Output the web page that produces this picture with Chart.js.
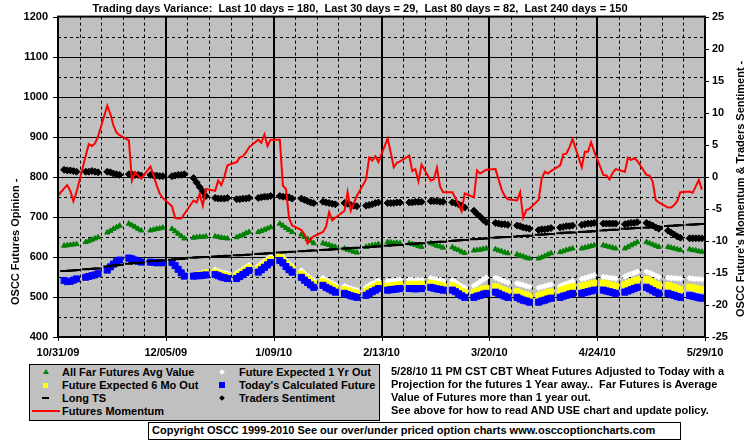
<!DOCTYPE html>
<html>
<head>
<meta charset="utf-8">
<script src="https://cdn.jsdelivr.net/npm/chart.js@4.4.1/dist/chart.umd.min.js"></script>
<style>
  html, body { margin: 0; padding: 0; background: #fff; }
  #wrap { position: relative; width: 755px; height: 446px; overflow: hidden;
          font: bold 11px "Liberation Sans", Arial, sans-serif; color: #000; }
  #chart { position: absolute; left: 0; top: 0; }
  .t { position: absolute; white-space: pre; line-height: 13px; }
  #title { left: 0; top: 2px; width: 720px; text-align: center; }
  #legend { position: absolute; left: 29px; top: 364px; width: 349px; height: 55px;
            background: #c0c0c0; border: 1px solid #000; overflow: hidden; }
  .mk { position: absolute; }
  #copy { position: absolute; left: 148px; top: 422px; width: 531px; height: 16px;
          border: 1px solid #000; background: #fff; }
</style>
</head>
<body>
<div id="wrap">
  <canvas id="chart" width="755" height="446"></canvas>
  <div class="t" id="title">Trading days Variance:  Last 10 days = 180,  Last 30 days = 29,  Last 80 days = 82,  Last 240 days = 150</div>

  <div id="legend">
    <!-- col 1 -->
    <div class="mk" style="left:13px;top:4px;width:0;height:0;border-left:3px solid transparent;border-right:3px solid transparent;border-bottom:5px solid #008000;"></div>
    <div class="t" style="left:32px;top:1px;">All Far Futures Avg Value</div>
    <div class="mk" style="left:13px;top:18px;width:5px;height:5px;background:#ff0;"></div>
    <div class="t" style="left:32px;top:14px;">Future Expected 6 Mo Out</div>
    <div class="mk" style="left:12px;top:32px;width:7px;height:2px;background:#000;"></div>
    <div class="t" style="left:32px;top:27px;">Long TS</div>
    <div class="mk" style="left:2px;top:45px;width:28px;height:2px;background:#f00;"></div>
    <div class="t" style="left:32px;top:40px;">Futures Momentum</div>
    <!-- col 2 -->
    <div class="mk" style="left:190px;top:5px;width:4px;height:4px;background:#fff;transform:rotate(45deg);"></div>
    <div class="t" style="left:209px;top:1px;">Future Expected 1 Yr Out</div>
    <div class="mk" style="left:189px;top:17px;width:6px;height:6px;background:#00f;"></div>
    <div class="t" style="left:209px;top:14px;">Today's Calculated Future</div>
    <div class="mk" style="left:190px;top:31px;width:4px;height:4px;background:#000;transform:rotate(45deg);"></div>
    <div class="t" style="left:209px;top:27px;">Traders Sentiment</div>
  </div>

  <div class="t" style="left:391px;top:365px;">5/28/10 11 PM CST CBT Wheat Futures Adjusted to Today with a</div>
  <div class="t" style="left:391px;top:378px;">Projection for the futures 1 Year away..  Far Futures is Average</div>
  <div class="t" style="left:391px;top:391px;">Value of Futures more than 1 year out.</div>
  <div class="t" style="left:391px;top:404px;">See above for how to read AND USE chart and update policy.</div>

  <div id="copy"><div class="t" style="left:3px;top:1px;">Copyright OSCC 1999-2010 See our over/under priced option charts www.osccoptioncharts.com</div></div>
</div>

<script>
// x axis: calendar days since 10/31/09, labelled every 5 weeks
const xTickDays   = [0, 35, 70, 105, 140, 175, 210];
const xTickLabels = ['10/31/09', '12/05/09', '1/09/10', '2/13/10', '3/20/10', '4/24/10', '5/29/10'];

// trading days (Mon..Fri) for the 30 weeks on the chart
const tradeDay = [];
for (let w = 0; w < 30; w++) for (let j = 0; j < 5; j++) tradeDay.push(2 + 7 * w + j);

// ---- left axis series (one row = one week, Mon..Fri) ----
const farFutures = [
  628,629,630,631,632,  637,640,643,646,649,  661,665,670,674,678,  683,679,675,670,666,
  666,668,670,671,673,  670,664,658,652,646,  648,649,650,650,651,  651,650,648,647,646,
  649,652,655,659,662,  662,665,668,671,674,  683,678,672,667,662,  656,650,645,640,634,
  634,632,630,627,625,  621,618,616,613,611,  625,627,629,630,632,  637,636,635,635,634,
  634,632,630,627,625,  634,631,628,626,623,  624,620,617,613,610,  616,617,618,620,621,
  619,616,614,611,609,  606,603,601,598,596,  596,599,602,606,609,  612,614,617,619,621,
  621,623,625,627,629,  629,627,625,623,621,  621,625,629,633,637,  637,634,631,628,625,
  625,623,621,619,617,  619,617,616,614,613
];
const sixMoOut = [
  540,537,538,541,544,  548,550,552,554,557,  566,574,581,587,591,  596,594,591,588,586,
  586,585,584,585,584,  585,577,568,559,551,  552,554,555,557,560,  562,559,556,554,552,
  553,558,563,568,573,  570,576,582,588,594,  599,593,584,576,570,  558,551,545,539,533,
  539,534,530,526,522,  519,516,513,511,509,  514,519,523,527,531,  527,528,529,530,531,
  532,532,531,532,532,  535,533,531,530,528,  529,525,520,515,511,  512,515,517,520,522,
  526,523,519,516,513,  514,510,507,505,502,  503,506,508,511,513,  516,519,521,524,526,
  527,529,531,533,535,  535,533,531,529,527,  531,534,537,540,543,  544,540,536,532,529,
  529,526,524,521,519,  525,523,521,519,518
];
const oneYrOut = [
  537,534,535,538,541,  545,547,549,551,554,  563,571,578,584,588,  593,591,588,585,583,
  583,582,581,582,581,  582,574,565,556,548,  552,555,557,560,563,  568,565,562,560,558,
  559,564,569,574,579,  577,583,589,595,601,  606,600,591,583,577,  566,559,553,547,541,
  547,542,538,534,530,  527,524,521,519,517,  524,529,533,537,541,  539,540,541,542,543,
  543,543,542,543,543,  547,545,543,542,540,  541,537,532,527,523,  528,533,538,543,548,
  548,545,542,539,536,  534,532,530,527,525,  523,525,527,529,531,  527,530,533,536,539,
  545,547,549,552,554,  550,549,548,547,546,  551,554,557,560,563,  563,560,557,553,550,
  548,547,547,546,546,  547,546,545,545,544
];
const todayCalc = [
  541,538,539,542,545,  549,551,553,555,558,  567,575,582,588,592,  597,595,592,589,587,
  587,586,585,586,585,  586,578,569,560,552,  552,553,553,554,555,  556,553,550,548,546,
  546,551,556,561,566,  562,568,574,580,586,  591,585,576,568,562,  549,542,536,530,524,
  529,524,520,516,512,  509,506,503,501,499,  504,509,513,517,521,  517,518,519,520,521,
  521,521,520,521,521,  524,522,520,519,517,  517,513,508,503,499,  499,502,504,507,509,
  512,509,505,502,499,  499,495,492,490,487,  487,490,492,495,497,  499,502,504,507,509,
  509,511,513,515,517,  517,515,513,511,509,  512,515,518,521,524,  524,520,516,512,509,
  509,506,504,501,499,  504,502,500,498,497
];
const longTS = [
  565,565,566,566,567,  569,570,570,571,571,  576,577,578,579,580,  583,584,585,585,586,
  589,590,590,591,591,  593,594,595,595,596,  598,599,599,600,600,  601,601,602,602,603,
  604,604,605,605,606,  607,608,608,609,609,  611,611,612,612,613,  614,615,615,616,616,
  617,618,618,619,619,  621,621,622,622,623,  624,625,625,626,626,  628,629,629,630,630,
  632,633,633,634,634,  636,637,637,638,638,  640,641,641,642,642,  644,645,645,646,646,
  648,649,649,650,650,  651,652,652,653,653,  655,656,656,657,657,  659,660,660,661,661,
  662,663,663,664,664,  666,667,667,668,668,  670,671,671,672,672,  673,674,674,675,675,
  677,678,678,679,679,  680,681,681,682,682
];

// ---- right axis series ----
const momentumDays = [-1].concat(tradeDay);   // line starts on Fri 10/30/09
const momentum = [
  -3.5,
  -1.8,-1.3,-2.2,-3.8,-2.4,   3.3, 5.1, 4.8, 5.2, 6.3,  11.1, 9.8, 8.0, 6.9, 6.5,   5.7,-0.6, 0.7, 0.2,-0.3,
   1.6, 0.3,-1.3,-2.6,-3.3,  -4.6,-6.4,-6.5,-6.5,-5.8,  -3.7,-4.0,-2.7,-4.5,-1.9,  -2.2,-0.6,-1.3, 0.0, 1.8,
   2.3, 3.0, 3.2, 3.8, 4.6,   5.8, 5.3, 6.6, 4.8, 5.8,   5.8,-1.4,-1.9,-6.5,-7.6,  -8.3,-9.0,-10.4,-9.7,-9.3,
  -8.6,-7.8,-5.5,-6.8,-6.4,  -5.3,-2.4,-5.3,-4.2,-3.0,  -0.4, 3.0, 2.5, 3.2, 2.3,   6.0, 3.8, 1.5, 2.2, 2.4,
   3.3, 0.9, 1.2,-0.7, 1.9,  -0.6,-0.4, 1.4,-1.5,-2.4,  -2.4,-3.3,-4.3,-5.4,-2.6,  -3.2, 1.0, 0.5, 0.8, 1.1,
   1.2,-0.4,-2.0,-3.0,-3.5,  -3.7,-2.4,-6.4,-5.2,-5.0,  -3.6,-0.3, 0.8, 0.5, 0.9,   1.8, 3.5, 3.6, 4.6, 5.9,
   1.5, 3.9, 3.9, 5.4, 4.0,   0.3, 0.2,-0.4, 0.6, 1.2,   0.8, 3.0, 2.6, 2.9, 2.5,   0.3, 0.2,-0.7,-3.6,-4.0,
  -4.8,-4.8,-4.4,-3.8,-2.4,  -2.3,-2.5,-1.5,-0.5,-2.0
];
const sentiment = [
   1.1, 1.0, 1.0, 0.9, 0.8,   0.8, 0.8, 0.9, 0.8, 0.7,   0.8, 0.7, 0.5, 0.4, 0.3,   0.4, 0.4, 0.3, 0.3, 0.2,
   0.3, 0.2, 0.2, 0.1, 0.1,   0.1, 0.2, 0.3, 0.3, 0.4,  -0.2,-0.9,-1.6,-2.3,-3.0,  -3.3,-3.4,-3.4,-3.4,-3.3,
  -3.5,-3.5,-3.4,-3.4,-3.3,  -3.3,-3.2,-3.1,-3.1,-3.0,  -3.0,-3.1,-3.1,-3.2,-3.4,  -3.4,-3.6,-3.8,-4.0,-4.1,
  -3.9,-4.0,-4.1,-4.2,-4.3,  -4.1,-4.2,-4.4,-4.5,-4.6,  -4.5,-4.4,-4.3,-4.1,-4.0,  -4.1,-4.1,-4.1,-4.0,-4.0,
  -4.0,-4.0,-3.9,-3.9,-3.9,  -3.8,-3.8,-3.8,-3.9,-3.9,  -4.0,-4.1,-4.3,-4.5,-4.8,  -5.3,-5.8,-6.2,-6.7,-7.1,
  -7.2,-7.3,-7.4,-7.4,-7.5,  -7.6,-7.7,-7.9,-8.0,-8.1,  -8.3,-8.2,-8.2,-8.1,-8.0,  -7.9,-7.8,-7.7,-7.7,-7.6,
  -7.5,-7.4,-7.3,-7.3,-7.2,  -7.3,-7.3,-7.3,-7.3,-7.3,  -7.4,-7.3,-7.2,-7.2,-7.1,  -7.2,-7.4,-7.6,-7.9,-8.1,
  -8.4,-8.7,-9.0,-9.3,-9.5,  -9.6,-9.6,-9.6,-9.6,-9.6
];

const FONT = '"Liberation Sans", Arial, sans-serif';
const pts = (days, vals) => vals.map((v, i) => ({ x: days[i], y: v }));

function markerSet(label, data, axis, style, color, radius, extra) {
  return Object.assign({
    label, data, yAxisID: axis, showLine: false,
    pointStyle: style, pointRadius: radius, pointHoverRadius: radius,
    pointBackgroundColor: color, pointBorderColor: color, pointBorderWidth: 1
  }, extra || {});
}

// ---- grid, plot frame, tick marks and axis titles ----
const framePlugin = {
  id: 'oscFrame',
  beforeDraw(chart) {
    const { ctx, chartArea: a, scales } = chart;
    ctx.save();
    ctx.fillStyle = '#fff';
    ctx.fillRect(0, 0, chart.width, chart.height);
    ctx.fillStyle = '#c0c0c0';
    ctx.fillRect(a.left, a.top, a.right - a.left, a.bottom - a.top);
    ctx.strokeStyle = '#000';
    ctx.lineWidth = 1;
    for (let v = 450; v < 1200; v += 50) {
      const y = Math.round(scales.y.getPixelForValue(v)) + 0.5;
      ctx.setLineDash(v % 100 ? [3, 3] : []);
      ctx.beginPath(); ctx.moveTo(a.left, y); ctx.lineTo(a.right, y); ctx.stroke();
    }
    for (let d = 7; d < 210; d += 7) {
      const x = Math.round(scales.x.getPixelForValue(d));
      ctx.beginPath();
      if (d % 35) { ctx.lineWidth = 1; ctx.setLineDash([3, 3]); ctx.moveTo(x + 0.5, a.top); ctx.lineTo(x + 0.5, a.bottom); }
      else { ctx.lineWidth = 2; ctx.setLineDash([]); ctx.moveTo(x, a.top); ctx.lineTo(x, a.bottom); }
      ctx.stroke();
    }
    ctx.restore();
  },
  afterDraw(chart) {
    const { ctx, chartArea: a, scales } = chart;
    ctx.save();
    ctx.strokeStyle = '#000';
    ctx.lineWidth = 2;
    ctx.strokeRect(a.left, a.top, a.right - a.left, a.bottom - a.top);
    ctx.lineWidth = 1;
    ctx.beginPath();
    for (let v = 400; v <= 1200; v += 100) {
      const y = Math.round(scales.y.getPixelForValue(v)) + 0.5;
      ctx.moveTo(a.left - 5, y); ctx.lineTo(a.left, y);
    }
    for (let v = -25; v <= 25; v += 5) {
      const y = Math.round(scales.y2.getPixelForValue(v)) + 0.5;
      ctx.moveTo(a.right, y); ctx.lineTo(a.right + 4, y);
    }
    xTickDays.forEach(d => {
      const x = Math.round(scales.x.getPixelForValue(d)) + 0.5;
      ctx.moveTo(x, a.bottom); ctx.lineTo(x, a.bottom + 4);
    });
    ctx.stroke();

    // axis titles read bottom-to-top on both sides
    ctx.fillStyle = '#000';
    ctx.font = 'bold 11px ' + FONT;
    ctx.textBaseline = 'middle';
    ctx.textAlign = 'left';
    ctx.translate(16, 305); ctx.rotate(-Math.PI / 2);
    ctx.fillText('OSCC Futures Opinion -', 0, 0);
    ctx.setTransform(1, 0, 0, 1, 0, 0);
    ctx.translate(741, 317); ctx.rotate(-Math.PI / 2);
    ctx.fillText("OSCC Future's Momentum & Traders Sentiment -", 0, 0);
    ctx.restore();
  }
};

const tickFont = { family: FONT, size: 11, weight: 'bold' };

new Chart(document.getElementById('chart'), {
  type: 'scatter',
  data: {
    datasets: [
      { label: 'Futures Momentum', data: pts(momentumDays, momentum), yAxisID: 'y2', type: 'line',
        borderColor: '#ff0000', borderWidth: 2, pointRadius: 0, fill: false, tension: 0 },
      markerSet('Traders Sentiment', pts(tradeDay, sentiment), 'y2', 'rectRot', '#000', 3.5),
      markerSet('Long TS', pts(tradeDay, longTS), 'y', 'line', '#000', 4, { pointBorderWidth: 2 }),
      markerSet("Today's Calculated Future", pts(tradeDay, todayCalc), 'y', 'rect', '#0000ff', 4.3),
      markerSet('Future Expected 6 Mo Out', pts(tradeDay, sixMoOut), 'y', 'rect', '#ffff00', 4),
      markerSet('Future Expected 1 Yr Out', pts(tradeDay, oneYrOut), 'y', 'rectRot', '#ffffff', 2.8),
      markerSet('All Far Futures Avg Value', pts(tradeDay, farFutures), 'y', 'triangle', '#008000', 3)
    ]
  },
  options: {
    responsive: false,
    animation: false,
    devicePixelRatio: 1,
    layout: { padding: { left: 0, right: 0, top: 15, bottom: 79 } },
    plugins: { legend: { display: false }, tooltip: { enabled: false } },
    scales: {
      x: {
        type: 'linear', min: 0, max: 210,
        grid: { display: false, drawTicks: false }, border: { display: false },
        afterBuildTicks: s => { s.ticks = xTickDays.map(v => ({ value: v })); },
        ticks: { autoSkip: false, maxRotation: 0, color: '#000', font: tickFont, padding: 9,
                 callback: v => xTickLabels[xTickDays.indexOf(v)] },
        afterFit: s => { s.height = 30; }
      },
      y: {
        position: 'left', min: 400, max: 1200,
        grid: { display: false, drawTicks: false }, border: { display: false },
        ticks: { stepSize: 100, color: '#000', font: tickFont, padding: 10, callback: v => String(v) },
        afterFit: s => { s.width = 58; }
      },
      y2: {
        position: 'right', min: -25, max: 25,
        grid: { display: false, drawTicks: false }, border: { display: false },
        ticks: { stepSize: 5, color: '#000', font: tickFont, padding: 7, callback: v => String(v) },
        afterFit: s => { s.width = 50; }
      }
    }
  },
  plugins: [framePlugin]
});
</script>
</body>
</html>
